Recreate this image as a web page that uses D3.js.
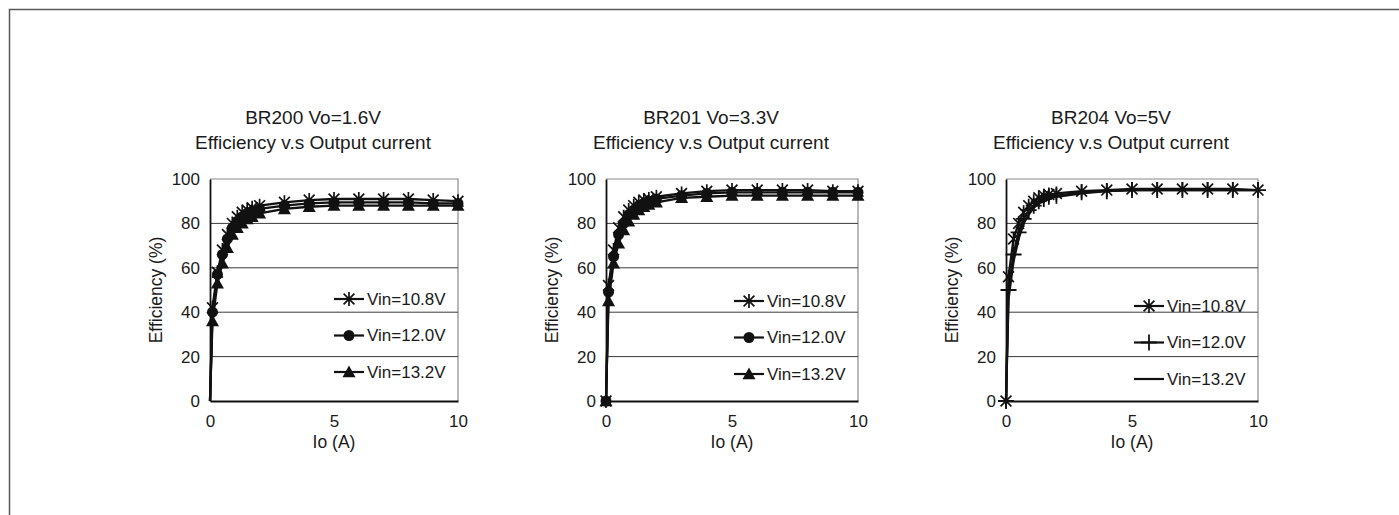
<!DOCTYPE html>
<html><head><meta charset="utf-8">
<script src="https://cdn.jsdelivr.net/npm/d3@7"></script>
<style>
body{margin:0;background:#fff}
text{font-family:"Liberation Sans",Arial,Helvetica,sans-serif;fill:#1a1a1a}
</style>
</head><body>
<svg id="c" width="1399" height="515"></svg>
<script>
// ---- data ----
const ioA = [0,0.1,0.3,0.5,0.7,0.9,1.1,1.3,1.5,1.7,2,3,4,5,6,7,8,9,10];

const br200_vin108 = [0,42,58,68,75,80,83,85,86,87,88,89.5,90.5,91,91,91,91,90.5,90];
const br200_vin120 = [0,40,57,66,73,78,81,83,84.5,85.5,86.5,88,89,89.5,89.5,89.5,89.5,89,89];
const br200_vin132 = [0,36,53,62,69,75,78,80,82,83,84.5,86.5,87.5,88,88,88,88,88,88];

const br201_vin108 = [0,52,68,78,83,86,88,89.5,90.5,91,92,93.5,94.5,95,95,95,95,94.5,94.5];
const br201_vin120 = [0,49,65,75,80,84,86,88,89,90,91,92.5,93.5,94,94,94,94,94,94];
const br201_vin132 = [0,45,62,71,77,81,84,86,87.5,88.5,89.5,91.5,92,92.5,92.5,92.5,92.5,92.5,92.5];

const br204_vin108 = [0,56,73,80,85,88,90,91.5,92.5,93,93.5,94.5,95,95.5,95.5,95.5,95.5,95.5,95];
const br204_vin120 = [0,50,66,76,82,86,88,90,91,92,92.5,94,94.5,95,95,95,95,95,95];
const br204_vin132 = [0,46,63,73,80,84,87,89,90,91,92,93.5,94.5,95,95,95,95,95,95];

const seriesNames = ["Vin=10.8V","Vin=12.0V","Vin=13.2V"];
const titleLine1 = ["BR200 Vo=1.6V","BR201 Vo=3.3V","BR204 Vo=5V"];
const titleLine2 = "Efficiency v.s Output current";
const xTicks = [0,5,10];
const yTicks = [0,20,40,60,80,100];
const xLabel = "Io (A)";
const yLabel = "Efficiency (%)";

const charts = [
  {title:titleLine1[0], series:[br200_vin108,br200_vin120,br200_vin132], markers:["star","circle","triangle"], markOrigin:false},
  {title:titleLine1[1], series:[br201_vin108,br201_vin120,br201_vin132], markers:["star","circle","triangle"], markOrigin:true},
  {title:titleLine1[2], series:[br204_vin108,br204_vin120,br204_vin132], markers:["star","plus","none"], markOrigin:true}
];

// ---- layout ----
const plotLefts = [210,606,1006];
const plotWidths = [248,252,252];
const plotTop = 179, plotBottom = 401;
const legendTops = [299,301,306];
const legendGap = 36.5;

const svg = d3.select("#c");
// outer frame (left and top visible)
svg.append("path").attr("d","M9.5,515 L9.5,9.5 L1399,9.5")
  .attr("fill","none").attr("stroke","#5a5a5a").attr("stroke-width",1.5);

function drawMarker(g, type, x, y){
  const ink = "#111";
  if(type==="star"){
    const s=7, d=5.4;
    g.append("path").attr("d",`M${x},${y-s}L${x},${y+s}M${x-d},${y-d}L${x+d},${y+d}M${x-d},${y+d}L${x+d},${y-d}`)
      .attr("stroke",ink).attr("stroke-width",1.7).attr("fill","none");
  } else if(type==="circle"){
    g.append("circle").attr("cx",x).attr("cy",y).attr("r",5.5).attr("fill",ink);
  } else if(type==="triangle"){
    const h=6.5;
    g.append("path").attr("d",`M${x},${y-h}L${x+h},${y+h*0.8}L${x-h},${y+h*0.8}Z`).attr("fill",ink);
  } else if(type==="plus"){
    const s=8;
    g.append("path").attr("d",`M${x},${y-s}L${x},${y+s}M${x-s},${y}L${x+s},${y}`)
      .attr("stroke",ink).attr("stroke-width",1.8).attr("fill","none");
  }
}

const FF = "Liberation Sans, Arial, sans-serif";

charts.forEach((c,i)=>{
  const L = plotLefts[i], W = plotWidths[i];
  const x = d3.scaleLinear().domain([0,10]).range([L,L+W]);
  const y = d3.scaleLinear().domain([0,100]).range([plotBottom,plotTop]);
  const g = svg.append("g");

  // plot border top/right
  g.append("path").attr("d",`M${L},${plotTop}L${L+W},${plotTop}L${L+W},${plotBottom}`)
    .attr("fill","none").attr("stroke","#8a8a8a").attr("stroke-width",1.2);
  // gridlines
  g.selectAll("line.grid").data(yTicks.filter(t=>t>0&&t<100)).enter().append("line")
    .attr("x1",L).attr("x2",L+W).attr("y1",d=>y(d)).attr("y2",d=>y(d))
    .attr("stroke","#3a3a3a").attr("stroke-width",1);

  // axes
  const yAxis = d3.axisLeft(y).tickValues(yTicks).tickSize(0).tickPadding(10);
  const ya = g.append("g").attr("transform",`translate(${L},0)`).call(yAxis);
  ya.select(".domain").attr("stroke","#111").attr("stroke-width",1.8);
  ya.selectAll("text").attr("font-size",17).style("font-family",FF).attr("fill","#1a1a1a");

  const xAxis = d3.axisBottom(x).tickValues(xTicks).tickSize(0).tickPadding(14);
  const xa = g.append("g").attr("transform",`translate(0,${plotBottom})`).call(xAxis);
  xa.select(".domain").attr("stroke","#111").attr("stroke-width",1.8);
  xa.selectAll("text").attr("font-size",17).style("font-family",FF).attr("fill","#1a1a1a");

  // titles
  const tc = L + W/2 - 21;
  g.append("text").attr("x",tc).attr("y",124).attr("text-anchor","middle").attr("font-size",19).text(c.title);
  g.append("text").attr("x",tc).attr("y",149).attr("text-anchor","middle").attr("font-size",19).text(titleLine2);

  // axis labels
  g.append("text").attr("x",L+W/2).attr("y",448).attr("text-anchor","middle").attr("font-size",17.5).text(xLabel);
  g.append("text").attr("transform",`translate(${L-54},${(plotTop+plotBottom)/2}) rotate(-90)`)
    .attr("text-anchor","middle").attr("dominant-baseline","central").attr("font-size",17.5).text(yLabel);

  // series
  const line = d3.line().x(d=>x(d[0])).y(d=>y(d[1]));
  c.series.forEach((vals,k)=>{
    const pts = ioA.map((a,j)=>[a,vals[j]]);
    g.append("path").datum(pts).attr("d",line).attr("fill","none")
      .attr("stroke","#111").attr("stroke-width",2.3).attr("stroke-linejoin","round");
    pts.forEach((p,j)=>{
      if(j===0 && !c.markOrigin) return;
      drawMarker(g, c.markers[k], x(p[0]), y(p[1]));
    });
  });

  // legend
  const lx = L + W - 91;
  seriesNames.forEach((n,k)=>{
    const ly = legendTops[i] + k*legendGap;
    g.append("line").attr("x1",lx-33).attr("x2",lx-3).attr("y1",ly).attr("y2",ly)
      .attr("stroke","#111").attr("stroke-width",2.2);
    drawMarker(g, c.markers[k], lx-18, ly);
    g.append("text").attr("x",lx).attr("y",ly).attr("dominant-baseline","central")
      .attr("font-size",17).text(n);
  });
});
</script>
</body></html>
